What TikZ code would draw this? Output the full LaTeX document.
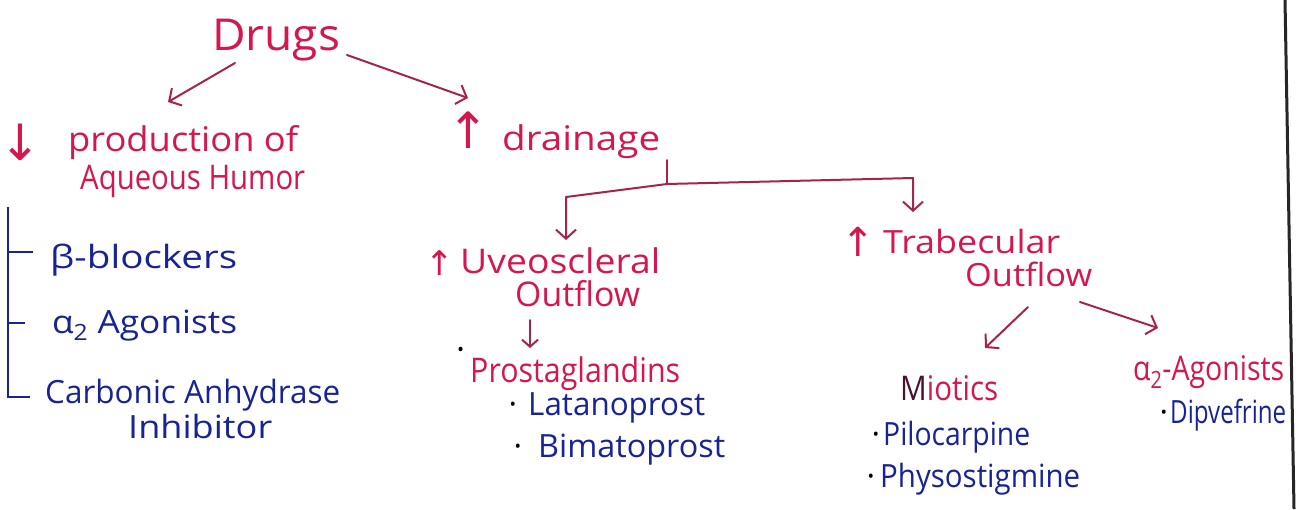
\documentclass[tikz,border=0pt]{standalone}
\usepackage{graphicx}
\usepackage{fontspec}
\setmainfont{Open Sans}
\newfontfamily\symf{DejaVu Sans}
\usetikzlibrary{arrows.meta}
\definecolor{rtext}{RGB}{212,24,78}
\definecolor{btext}{RGB}{24,36,150}
\definecolor{arrc}{RGB}{165,36,72}
\definecolor{mdark}{RGB}{70,20,50}
\newcommand\fw[2]{\resizebox{#1pt}{\height}{#2}}
\newcommand\bdot[1]{\llap{\textcolor{black}{·}\hspace{#1pt}}}
\begin{document}
\begin{tikzpicture}[x=1pt,y=-1pt,
  lbl/.style={anchor=base west, inner sep=0pt, font=\fontsize{34}{40}\selectfont},
  rlbl/.style={lbl, text=rtext},
  blbl/.style={lbl, text=btext, font=\fontsize{32}{38}\selectfont},
  sym/.style={inner sep=0pt, text=rtext, font=\symf\fontsize{50}{50}\selectfont},
  conn/.style={draw=arrc, line width=2pt, line cap=round, line join=round,
    -{Straight Barb[length=9pt,width=20pt,line width=2pt]}},
  plainline/.style={draw=arrc, line width=2pt, line cap=round, line join=round},
  bline/.style={draw=btext, line width=2.5pt, line join=miter},
]
\useasboundingbox (0,0) rectangle (1308,509);
\fill[white] (0,0) rectangle (1308,509);

% page edge
\draw[line width=3pt, black!85] (1285,0) -- (1294,509);

% text nodes
\node[rlbl, font=\fontsize{44}{50}\selectfont] (drugs) at (212,50) {\fw{128}{Drugs}};
\node[sym] (dn) at (20,142) {↓};
\node[rlbl] (prod1) at (68,151) {\fw{230}{production of}};
\node[rlbl] (prod2) at (80,189) {\fw{225}{Aqueous Humor}};
\node[blbl] (beta) at (50,268) {\fw{187}{β-blockers}};
\node[blbl] (alpha) at (52,333) {\fw{185}{α\textsubscript{2} Agonists}};
\node[blbl] (carb1) at (45,403) {\fw{295}{Carbonic Anhydrase}};
\node[blbl] (carb2) at (128,438) {\fw{144}{Inhibitor}};

\node[sym] (up1) at (468,130) {↑};
\node[sym, font=\symf\fontsize{34}{34}\selectfont] (up2) at (440,263) {↑};
\node[rlbl] (drain) at (502,150) {\fw{158}{drainage}};
\node[rlbl] (uveo1) at (460,273) {\fw{200}{Uveoscleral}};
\node[rlbl] (uveo2) at (515,306) {\fw{125}{Outflow}};
\node[rlbl] (prost) at (470,382) {\llap{\raisebox{21pt}{\textcolor{black}{·}}\hspace{5pt}}\fw{210}{Prostaglandins}};
\node[blbl] (lat) at (528,415) {\bdot{11}\fw{177}{Latanoprost}};
\node[blbl] (bim) at (538,457) {\bdot{16}\fw{187}{Bimatoprost}};

\node[sym, font=\symf\fontsize{40}{40}\selectfont] (up3) at (858,242) {↑};
\node[rlbl, font=\fontsize{32}{38}\selectfont] (trab1) at (883,253) {\fw{177}{Trabecular}};
\node[rlbl, font=\fontsize{32}{38}\selectfont] (trab2) at (965,286) {\fw{127}{Outflow}};
\node[rlbl] (miot) at (900,400) {\fw{98}{\textcolor{mdark}{M}iotics}};
\node[blbl] (pilo) at (883,445) {\bdot{3}\fw{147}{Pilocarpine}};
\node[blbl] (physo) at (880,487) {\bdot{5}\fw{200}{Physostigmine}};
\node[rlbl] (agon) at (1133,380) {\fw{151}{α\textsubscript{2}-Agonists}};
\node[blbl] (dipv) at (1170,423) {\bdot{2}\fw{116}{Dipvefrine}};

% connectors
\draw[conn] ([shift={(23,13)}]drugs.base west) -- ([shift={(100,-49)}]prod1.base west);
\draw[conn] ([shift={(135,5)}]drugs.base west) -- ([shift={(-34,-52)}]drain.base west);

\coordinate (junc) at (667,184);
\coordinate (lcorner) at (566,197);
\coordinate (rcorner) at (913,178);
\draw[plainline] ([shift={(165,10)}]drain.base west) -- (junc);
\draw[conn] (junc) -- (lcorner) -- ([shift={(106,-33)}]uveo1.base west);
\draw[conn] (junc) -- (rcorner) -- ([shift={(30,-41)}]trab1.base west);

\draw[conn, -{Straight Barb[length=7pt,width=16pt,line width=2pt]}]
  ([shift={(15,14)}]uveo2.base west) -- ([shift={(60,-34)}]prost.base west);

\draw[conn] ([shift={(63,21)}]trab2.base west) -- ([shift={(85,-52)}]miot.base west);
\draw[conn] ([shift={(115,16)}]trab2.base west) -- ([shift={(25,-52)}]agon.base west);

% blue bracket
\coordinate (brtop) at (8,207);
\draw[bline] (brtop) |- ([shift={(-15,-6)}]carb1.base west);
\draw[bline] ([shift={(-17,-16)}]beta.base west) -| (brtop);
\draw[bline] ([shift={(-27,-10)}]alpha.base west) -| (brtop);
\end{tikzpicture}
\end{document}
